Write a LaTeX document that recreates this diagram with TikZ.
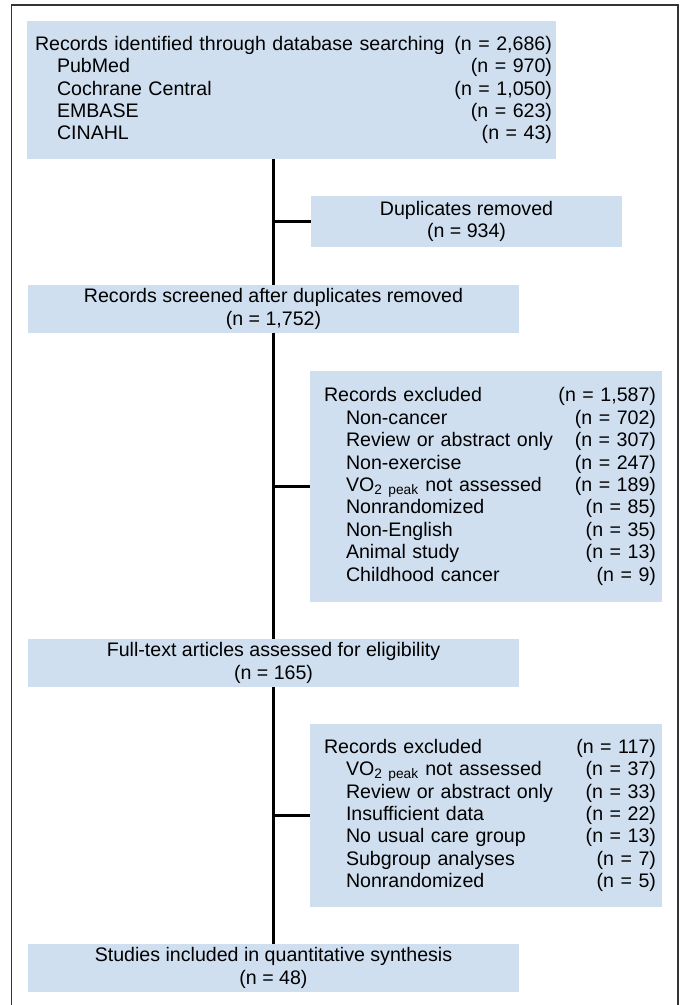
\documentclass[tikz,border=0pt]{standalone}
\usepackage{fontspec}
\setmainfont{Liberation Sans}
\definecolor{boxblue}{RGB}{208,223,240}
\begin{document}
\begin{tikzpicture}[x=1pt, y=-1pt,
	box/.style={fill=boxblue, inner sep=0pt, align=center, font=\fontsize{19.6}{22.4}\selectfont},
	listbox/.style={box, align=left, text width=#1},
	flowline/.style={line width=2.5pt, black}]
	\useasboundingbox (0,0) rectangle (681,1005);
	% Frame
	\draw[line width=1.3pt, black!80] (11.7,1005) -- (11.7,5) -- (678,5) -- (678,1005);

	% Identification
	\node[listbox=521pt, minimum width=529pt, minimum height=138pt] (ident) at (291.5,90) {
		\hspace*{4pt}Records identified through database searching\hfill(n = 2,686)\\
		\hspace*{26pt}PubMed\hfill(n = 970)\\
		\hspace*{26pt}Cochrane Central\hfill(n = 1,050)\\
		\hspace*{26pt}EMBASE\hfill(n = 623)\\
		\hspace*{26pt}CINAHL\hfill(n = 43)};
	\node[box, minimum width=311pt, minimum height=51pt] (dupl) at (466.5,221.5) {Duplicates removed\\(n = 934)};

	% Screening
	\node[box, minimum width=491pt, minimum height=48pt] (screen) at (273.5,309) {Records screened after duplicates removed\\(n = 1,752)};
	\node[listbox=340pt, minimum width=352pt, minimum height=231pt] (exclA) at (486,486.5) {
		\hspace*{8pt}Records excluded\hfill(n = 1,587)\\
		\hspace*{30pt}Non-cancer\hfill(n = 702)\\
		\hspace*{30pt}Review or abstract only\hfill(n = 307)\\
		\hspace*{30pt}Non-exercise\hfill(n = 247)\\
		\hspace*{30pt}VO\textsubscript{2 peak} not assessed\hfill(n = 189)\\
		\hspace*{30pt}Nonrandomized\hfill(n = 85)\\
		\hspace*{30pt}Non-English\hfill(n = 35)\\
		\hspace*{30pt}Animal study\hfill(n = 13)\\
		\hspace*{30pt}Childhood cancer\hfill(n = 9)};

	% Eligibility
	\node[box, minimum width=491pt, minimum height=48pt] (full) at (273.5,663) {Full-text articles assessed for eligibility\\(n = 165)};
	\node[listbox=340pt, minimum width=352pt, minimum height=183pt] (exclB) at (486,815.5) {
		\hspace*{8pt}Records excluded\hfill(n = 117)\\
		\hspace*{30pt}VO\textsubscript{2 peak} not assessed\hfill(n = 37)\\
		\hspace*{30pt}Review or abstract only\hfill(n = 33)\\
		\hspace*{30pt}Insufficient data\hfill(n = 22)\\
		\hspace*{30pt}No usual care group\hfill(n = 13)\\
		\hspace*{30pt}Subgroup analyses\hfill(n = 7)\\
		\hspace*{30pt}Nonrandomized\hfill(n = 5)};

	% Included
	\node[box, minimum width=491pt, minimum height=48pt] (incl) at (273.5,968) {Studies included in quantitative synthesis\\(n = 48)};

	% Connectors
	\draw[flowline] (screen.north |- ident.south) -- (screen.north);
	\draw[flowline] (screen.south) -- (full.north);
	\draw[flowline] (full.south) -- (incl.north);
	\draw[flowline] (dupl.west -| screen.north) -- (dupl.west);
	\draw[flowline] (exclA.west -| screen.south) -- (exclA.west);
	\draw[flowline] (exclB.west -| full.south) -- (exclB.west);
\end{tikzpicture}
\end{document}
